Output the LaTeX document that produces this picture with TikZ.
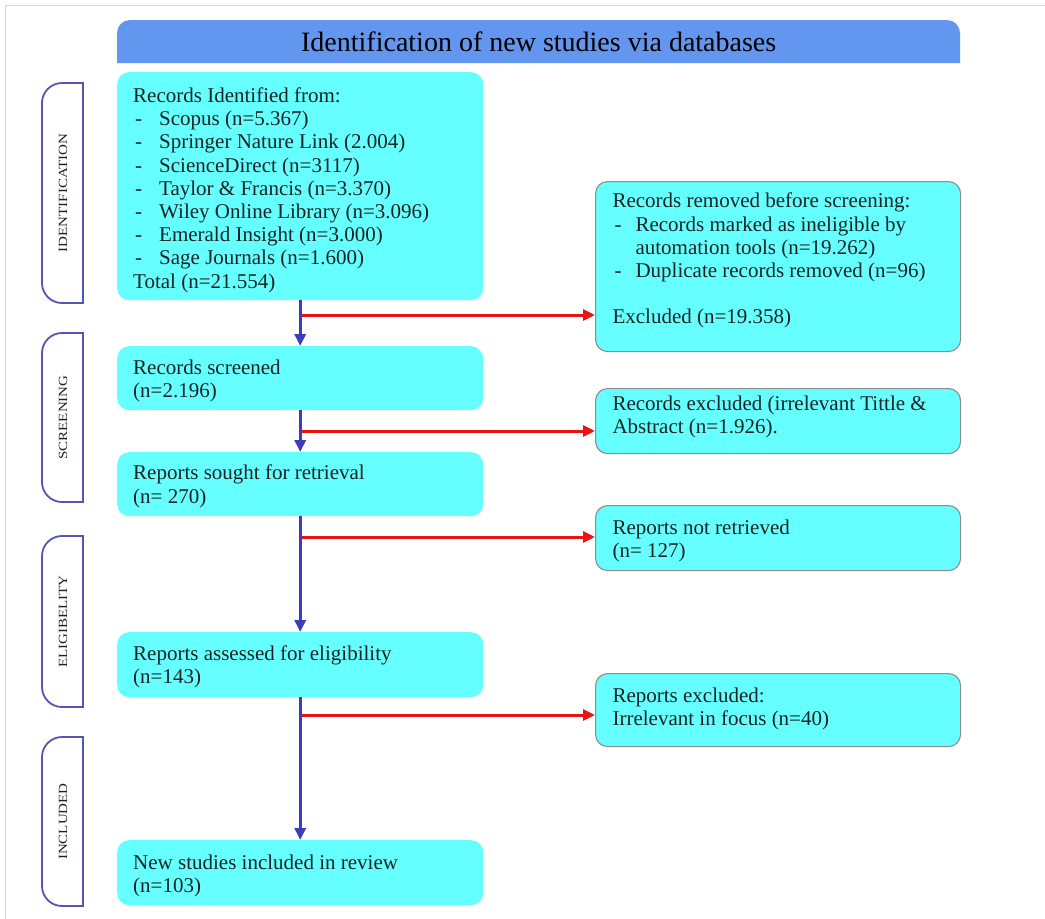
\documentclass[tikz,border=0pt]{standalone}
\usepackage{fontspec}
\usepackage{graphicx}
\setmainfont{Liberation Serif}
\usetikzlibrary{arrows.meta}
\definecolor{cyanbox}{RGB}{102,255,255}
\definecolor{headblue}{RGB}{99,150,238}
\definecolor{sideblue}{RGB}{85,85,180}
\definecolor{arrblue}{RGB}{60,60,190}
\definecolor{arrred}{RGB}{232,20,20}
\definecolor{txt}{RGB}{25,35,35}
\definecolor{framegray}{RGB}{215,215,215}
\definecolor{rboxline}{RGB}{140,140,140}
\newcommand{\boxtxt}[5]{\parbox[t][#1][t]{#2}{\fontsize{21}{23.2}\selectfont\raggedright\leftskip=#3\relax\vspace*{#4}#5}}
\newcommand{\bul}[1]{\makebox[#1][l]{\hspace{2pt}-}}
\newcommand{\sidelab}[4]{%
  \draw[sideline] (83,#3) -- (62,#3) .. controls (50.96,#3) and (42,#3-8.96) .. (42,#3-20) -- (42,#2+20) .. controls (42,#2+8.96) and (50.96,#2) .. (62,#2) -- (83,#2) -- cycle;
  \node[sidetext] (#1) at (63,{(#2+#3)/2}) {\scalebox{1.2}[1]{#4}};}
\tikzset{
  lbox/.style={anchor=north west, inner sep=0pt, fill=cyanbox, rounded corners=12pt, text=txt},
  rbox/.style={lbox, draw=rboxline, line width=1.1pt},
  sideline/.style={draw=sideblue, line width=1.8pt, fill=white},
  sidetext/.style={rotate=90, inner sep=0pt, text=txt, font=\fontsize{12.5}{12.5}\selectfont},
  barrow/.style={draw=arrblue, line width=3pt, -{Triangle[width=11pt,length=12pt]}},
  rarrow/.style={draw=arrred, line width=3pt, -{Triangle[width=11pt,length=12pt]}},
}
\begin{document}
\begin{tikzpicture}[x=1pt,y=-1pt]
\useasboundingbox (0,0) rectangle (1045,919);
\draw[framegray, line width=1pt] (5,919) -- (5,5) -- (1045,5);
% header
\fill[headblue] (117,63) -- (117,33) .. controls (117,25.8) and (122.8,20) .. (130,20) -- (947,20) .. controls (954.2,20) and (960,25.8) .. (960,33) -- (960,63) -- cycle;
\node[anchor=north west, inner sep=0pt, minimum width=843pt, minimum height=43pt, text={RGB:red,30;green,30;blue,60}, font=\fontsize{28}{30}\selectfont] (head) at (117,20) {Identification of new studies via databases};
% side labels
\sidelab{lid}{83}{303}{IDENTIFICATION}
\sidelab{lscr}{333}{502}{SCREENING}
\sidelab{lelig}{536}{707}{ELIGIBELITY}
\sidelab{linc}{737}{906}{INCLUDED}
% left boxes
\node[lbox] (b1) at (117,72) {\boxtxt{228pt}{366pt}{16pt}{15.5pt}{Records Identified from:\\
\bul{26pt}Scopus (n=5.367)\\
\bul{26pt}Springer Nature Link (2.004)\\
\bul{26pt}ScienceDirect (n=3117)\\
\bul{26pt}Taylor \& Francis (n=3.370)\\
\bul{26pt}Wiley Online Library (n=3.096)\\
\bul{26pt}Emerald Insight (n=3.000)\\
\bul{26pt}Sage Journals (n=1.600)\\
Total (n=21.554)}};
\node[lbox] (b2) at (117,346) {\boxtxt{64pt}{366pt}{16pt}{13.5pt}{Records screened\\(n=2.196)}};
\node[lbox] (b3) at (117,452) {\boxtxt{64pt}{366pt}{16pt}{13pt}{Reports sought for retrieval\\(n= 270)}};
\node[lbox] (b4) at (117,632) {\boxtxt{65pt}{366pt}{16pt}{13.5pt}{Reports assessed for eligibility\\(n=143)}};
\node[lbox] (b5) at (117,840) {\boxtxt{65pt}{366pt}{16pt}{15pt}{New studies included in review\\(n=103)}};
% right boxes
\node[rbox] (r1) at (595,181) {\boxtxt{170pt}{365pt}{17pt}{11.5pt}{Records removed before screening:\\
\bul{23pt}Records marked as ineligible by\\
\hspace*{23pt}automation tools (n=19.262)\\
\bul{23pt}Duplicate records removed (n=96)\\[23.2pt]
Excluded (n=19.358)}};
\node[rbox] (r2) at (595,388) {\boxtxt{65pt}{365pt}{17pt}{7.5pt}{Records excluded (irrelevant Tittle \&\\Abstract (n=1.926).}};
\node[rbox] (r3) at (595,505) {\boxtxt{65pt}{365pt}{17pt}{14.5pt}{Reports not retrieved\\(n= 127)}};
\node[rbox] (r4) at (595,673) {\boxtxt{73pt}{365pt}{17pt}{14.5pt}{Reports excluded:\\Irrelevant in focus (n=40)}};
% red arrows
\coordinate (s1) at (301.5,315);
\coordinate (s2) at (301.5,431);
\coordinate (s3) at (301.5,537);
\coordinate (s4) at (301.5,715);
\draw[rarrow] (s1) -- (s1 -| r1.west);
\draw[rarrow] (s2) -- (s2 -| r2.west);
\draw[rarrow] (s3) -- (s3 -| r3.west);
\draw[rarrow] (s4) -- (s4 -| r4.west);
% blue arrows
\draw[barrow] (b1.south) -- (b2.north);
\draw[barrow] (b2.south) -- (b3.north);
\draw[barrow] (b3.south) -- (b4.north);
\draw[barrow] (b4.south) -- (b5.north);
\end{tikzpicture}
\end{document}
